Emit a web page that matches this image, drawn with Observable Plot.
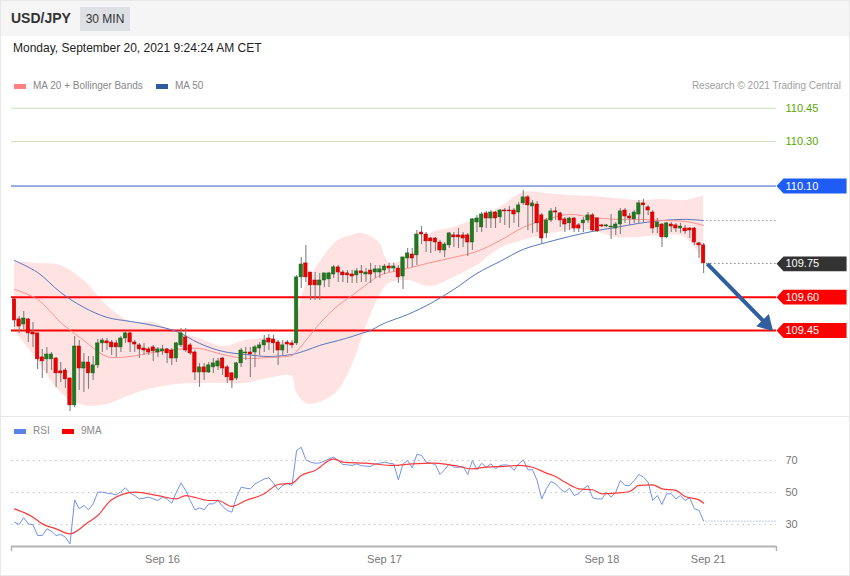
<!DOCTYPE html>
<html><head><meta charset="utf-8">
<script src="https://cdn.jsdelivr.net/npm/d3@7"></script>
<script src="https://cdn.jsdelivr.net/npm/@observablehq/plot@0.6"></script>
<style>
body{margin:0;background:#fff;font-family:"Liberation Sans",Arial,sans-serif;}
#wrap{position:relative;width:850px;height:576px;overflow:hidden;background:#fff;}
#hdr{position:absolute;left:0;top:0;width:850px;height:36px;background:#f5f5f5;}
#sym{position:absolute;left:11px;top:10px;font-size:14px;font-weight:bold;color:#333;}
#badge{position:absolute;left:80px;top:7px;width:50px;height:24px;line-height:24px;text-align:center;background:#dde0e5;font-size:12px;color:#333;}
#date{position:absolute;left:13px;top:41px;font-size:12px;color:#222;}
.leg{position:absolute;font-size:10px;color:#888;line-height:12px;}
.sw{position:absolute;width:12px;height:5px;}
#credit{position:absolute;right:9px;top:80px;font-size:10px;color:#a0a0a0;}
#main{position:absolute;left:0;top:96px;}
#rsi{position:absolute;left:0;top:416px;}
#sep{position:absolute;left:0;top:416px;width:850px;height:1px;background:#e6e6e6;z-index:3;}
#border{position:absolute;left:0;top:0;width:848px;height:574px;border:1px solid #e8e8e8;z-index:4;pointer-events:none;}
</style></head>
<body>
<div id="wrap">
  <div id="hdr"><div id="sym">USD/JPY</div><div id="badge">30 MIN</div></div>
  <div id="date">Monday, September 20, 2021 9:24:24 AM CET</div>
  <div class="sw" style="left:14px;top:84px;background:#ff8080"></div>
  <div class="leg" style="left:33px;top:80px">MA 20 + Bollinger Bands</div>
  <div class="sw" style="left:156px;top:84px;background:#2f5c9e"></div>
  <div class="leg" style="left:175px;top:80px">MA 50</div>
  <div id="credit">Research © 2021 Trading Central</div>
  <div id="main"></div>
  <div id="sep"></div>
  <div id="rsi"></div>
  <div class="sw" style="left:14px;top:429px;background:#5b82e6;z-index:5"></div>
  <div class="leg" style="left:33px;top:425px;z-index:5">RSI</div>
  <div class="sw" style="left:62px;top:429px;background:#ff0000;z-index:5"></div>
  <div class="leg" style="left:81px;top:425px;z-index:5">9MA</div>
  <div id="border"></div>
</div>
<script>
// ---- candles (30 min USD/JPY), index 0..149 ----
const opens = [
109.590,109.500,109.477,109.500,109.441,109.437,109.329,109.320,109.320,109.324,
109.266,109.270,109.234,109.113,109.378,109.279,109.306,109.257,109.293,109.392,
109.401,109.396,109.392,109.374,109.414,109.437,109.396,109.383,109.369,109.365,
109.374,109.351,109.356,109.365,109.360,109.324,109.383,109.419,109.383,109.351,
109.261,109.284,109.261,109.284,109.288,109.324,109.284,109.257,109.234,109.302,
109.347,109.351,109.351,109.369,109.383,109.414,109.410,109.396,109.360,109.396,
109.392,109.392,109.689,109.752,109.711,109.675,109.653,109.675,109.680,109.702,
109.734,109.711,109.707,109.702,109.698,109.716,109.702,109.720,109.711,109.711,
109.720,109.738,109.729,109.729,109.693,109.774,109.792,109.788,109.891,109.882,
109.864,109.864,109.846,109.810,109.833,109.878,109.878,109.878,109.878,109.846,
109.936,109.914,109.977,109.954,109.981,109.959,109.990,109.990,109.990,109.981,
110.022,110.049,110.008,110.017,109.968,109.887,109.945,109.986,109.977,109.950,
109.932,109.954,109.923,109.932,109.945,109.968,109.954,109.923,109.918,109.914,
109.909,109.927,109.990,109.963,109.950,109.972,110.022,110.004,109.981,109.914,
109.927,109.869,109.927,109.923,109.909,109.909,109.909,109.909,109.842,109.833];
const highs = [
109.594,109.513,109.536,109.504,109.486,109.437,109.365,109.374,109.351,109.329,
109.306,109.279,109.239,109.423,109.405,109.347,109.333,109.333,109.410,109.414,
109.414,109.405,109.405,109.423,109.446,109.441,109.405,109.392,109.392,109.374,
109.383,109.374,109.383,109.369,109.369,109.396,109.459,109.459,109.392,109.360,
109.302,109.302,109.306,109.324,109.324,109.329,109.293,109.261,109.306,109.369,
109.374,109.374,109.383,109.396,109.428,109.432,109.428,109.405,109.405,109.405,
109.405,109.698,109.779,109.833,109.711,109.711,109.707,109.707,109.711,109.743,
109.743,109.720,109.720,109.720,109.729,109.743,109.729,109.752,109.743,109.743,
109.747,109.752,109.752,109.743,109.779,109.819,109.819,109.900,109.918,109.891,
109.869,109.869,109.855,109.846,109.891,109.891,109.909,109.891,109.887,109.954,
109.968,109.981,109.986,109.990,109.986,109.995,109.999,110.008,109.999,110.026,
110.080,110.058,110.035,110.031,109.977,109.954,109.999,110.004,109.981,109.959,
109.959,109.959,109.932,109.959,109.981,109.977,109.959,109.927,109.927,109.972,
109.936,109.999,109.999,109.977,109.990,110.035,110.040,110.013,109.990,109.954,
109.932,109.936,109.936,109.932,109.932,109.923,109.914,109.914,109.846,109.842];
const lows = [
109.464,109.437,109.455,109.396,109.374,109.275,109.234,109.257,109.270,109.194,
109.216,109.189,109.085,109.104,109.180,109.171,109.185,109.225,109.279,109.351,
109.360,109.338,109.329,109.351,109.392,109.351,109.351,109.324,109.338,109.338,
109.311,109.329,109.338,109.302,109.293,109.306,109.374,109.351,109.338,109.225,
109.194,109.225,109.257,109.257,109.270,109.248,109.212,109.189,109.225,109.284,
109.315,109.239,109.284,109.338,109.351,109.360,109.347,109.293,109.338,109.347,
109.369,109.383,109.639,109.666,109.585,109.585,109.585,109.644,109.644,109.684,
109.666,109.666,109.662,109.662,109.662,109.666,109.666,109.662,109.684,109.684,
109.702,109.711,109.711,109.662,109.635,109.729,109.734,109.743,109.837,109.801,
109.797,109.806,109.797,109.779,109.819,109.824,109.819,109.824,109.783,109.810,
109.891,109.891,109.909,109.909,109.909,109.932,109.923,109.909,109.932,109.914,
110.013,109.900,109.887,109.891,109.842,109.864,109.936,109.945,109.914,109.891,
109.900,109.891,109.891,109.891,109.932,109.891,109.891,109.914,109.914,109.860,
109.878,109.882,109.932,109.923,109.932,109.932,109.936,109.968,109.887,109.887,
109.824,109.864,109.891,109.891,109.887,109.882,109.864,109.833,109.774,109.707];
const closes = [
109.495,109.468,109.504,109.437,109.432,109.320,109.311,109.342,109.342,109.257,
109.257,109.230,109.113,109.378,109.279,109.306,109.257,109.293,109.392,109.405,
109.392,109.374,109.374,109.414,109.437,109.396,109.387,109.365,109.360,109.351,
109.356,109.365,109.365,109.347,109.324,109.392,109.437,109.360,109.347,109.261,
109.284,109.261,109.293,109.302,109.311,109.279,109.239,109.225,109.302,109.360,
109.351,109.342,109.374,109.383,109.405,109.396,109.392,109.360,109.383,109.387,
109.383,109.689,109.747,109.689,109.653,109.653,109.675,109.707,109.707,109.734,
109.711,109.698,109.698,109.693,109.716,109.707,109.711,109.702,109.725,109.725,
109.738,109.729,109.738,109.689,109.779,109.797,109.774,109.882,109.882,109.851,
109.851,109.846,109.810,109.837,109.887,109.869,109.869,109.864,109.846,109.950,
109.954,109.972,109.954,109.981,109.954,109.990,109.986,109.986,109.972,110.013,
110.049,110.013,110.022,109.932,109.864,109.945,109.986,109.981,109.945,109.927,
109.954,109.909,109.909,109.945,109.968,109.900,109.896,109.918,109.923,109.918,
109.927,109.986,109.963,109.954,109.981,110.022,110.013,109.990,109.909,109.936,
109.869,109.932,109.918,109.909,109.918,109.896,109.900,109.846,109.833,109.752];

// ---- moving averages & Bollinger bands (sampled at candle indices) ----
const bandIdx   = [0,5,10,15,20,25,30,35,40,45,50,55,60,61,63,66,70,73,75,77,79,81,85,90,95,100,105,110,115,120,125,130,135,140,145,149];
const upperBand = [109.761,109.752,109.743,109.675,109.563,109.491,109.486,109.441,109.414,109.378,109.405,109.414,109.396,109.495,109.653,109.756,109.855,109.878,109.887,109.873,109.842,109.756,109.774,109.887,109.914,109.954,110.004,110.071,110.067,110.058,110.053,110.044,110.035,110.040,110.035,110.058];
const lowerBand = [109.450,109.315,109.171,109.113,109.117,109.158,109.189,109.207,109.212,109.212,109.212,109.234,109.243,109.171,109.122,109.126,109.180,109.293,109.405,109.518,109.608,109.662,109.675,109.648,109.689,109.743,109.819,109.855,109.882,109.900,109.900,109.869,109.869,109.878,109.869,109.765];
const ma20      = [109.635,109.590,109.486,109.405,109.333,109.333,109.351,109.365,109.369,109.342,109.324,109.329,109.338,109.356,109.405,109.482,109.563,109.608,109.639,109.671,109.698,109.711,109.729,109.756,109.779,109.806,109.855,109.914,109.950,109.972,109.959,109.950,109.950,109.945,109.941,109.923];
const ma50      = [109.765,109.711,109.621,109.554,109.509,109.491,109.473,109.446,109.392,109.356,109.342,109.333,109.342,109.347,109.360,109.383,109.405,109.423,109.437,109.450,109.473,109.491,109.522,109.572,109.635,109.707,109.761,109.815,109.846,109.873,109.896,109.914,109.932,109.945,109.950,109.945];

// ---- RSI and its 9-period MA ----
const rsi = [
31.5,30.0,34.2,30.4,29.8,23.1,23.1,27.3,25.8,23.1,
23.8,22.1,17.9,45.4,39.8,41.9,39.2,42.9,50.2,50.2,
49.6,49.2,48.5,50.5,52.9,49.6,48.1,46.0,46.5,47.1,
46.0,45.0,47.1,46.0,43.3,50.2,56.0,51.3,45.0,39.2,
40.4,39.2,42.9,42.9,45.0,41.3,38.8,37.7,47.1,53.3,
52.7,52.3,55.4,56.9,58.5,59.2,55.8,51.7,54.4,55.8,
54.4,76.3,78.3,70.4,69.0,68.3,68.5,69.6,71.0,72.1,
70.0,67.5,67.3,66.9,67.9,66.7,66.5,66.3,67.9,68.3,
69.0,68.3,67.9,57.9,67.9,70.0,65.4,73.8,73.3,69.0,
68.3,67.5,61.3,64.2,67.9,65.8,65.8,66.3,61.3,70.0,
64.2,68.3,65.8,67.9,64.8,66.9,67.3,66.9,63.8,67.9,
70.4,64.2,64.2,57.5,46.0,52.3,56.9,55.4,52.3,50.2,
52.7,48.1,49.2,52.3,54.4,46.7,46.0,46.0,50.2,47.1,
50.2,57.5,54.4,54.4,57.5,61.3,59.6,56.5,45.0,48.1,
42.5,49.2,49.2,46.0,48.1,45.0,46.7,39.8,38.8,32.1];
const ma9Idx = [0,4,6,9,12,16,18,21,26,31,35,37,42,44,47,50,54,57,60,62,65,69,71,76,82,86,91,95,99,102,106,109,112,115,117,119,122,125,127,130,133,135,138,140,143,145,148,149];
const ma9Val = [39.8,34.6,30.4,27.3,24.2,31.5,35.6,45.4,50.2,48.1,46.0,48.1,45.0,45.0,41.3,45.0,49.2,55.0,55.8,60.6,63.8,71.0,69.0,68.3,66.9,67.9,68.3,66.9,64.8,65.8,66.3,66.9,65.8,62.1,60.0,56.5,52.3,51.7,49.2,49.6,50.6,54.4,54.8,52.3,51.3,47.5,45.4,43.3];

// ---- levels, ticks, annotation ----
const levelValues = [110.45, 110.30, 110.10, 109.75, 109.60, 109.45];
const levelLabels = ["110.45", "110.30", "110.10", "109.75", "109.60", "109.45"];
const rsiLevels = [70, 50, 30];
const tickIdx = [32, 80, 127, 150];
const tickLabels = ["Sep 16", "Sep 17", "Sep 18", "Sep 21"];
const arrowFrom = [149.8, 109.75];
const arrowHead = [162.5, 109.48];

// ---- scales geometry ----
const X0 = -0.6486, X1 = 164.757;
const TAG_TIP = X1, TAG_START = 166.27, TAG_END = 179.9, TAG_TEXT = 166.7, TAG_H = 0.0335;
const LAST = 149;
const font = {fontFamily: "'Liberation Sans', Arial, sans-serif", fontSize: "11px", background: "transparent", overflow: "visible"};

const candles = opens.map((o, i) => ({i, o, h: highs[i], l: lows[i], c: closes[i], up: closes[i] >= o}));
const bands = bandIdx.map((i, k) => ({i, up: upperBand[k], lo: lowerBand[k], m20: ma20[k], m50: ma50[k]}));

const levelStyle = {
  "110.45": {line: "#c9e0b8", w: 1, text: "#5aa700", box: null},
  "110.30": {line: "#c9e0b8", w: 1, text: "#5aa700", box: null},
  "110.10": {line: "#3a5bc8", w: 1, text: "#fff", box: "#1f5cf5"},
  "109.75": {line: null, w: 0, text: "#fff", box: "#333333"},
  "109.60": {line: "#ff0000", w: 2, text: "#fff", box: "#ff0000"},
  "109.45": {line: "#ff0000", w: 2, text: "#fff", box: "#ff0000"}
};

const marks = [];
marks.push(Plot.areaY(bands, {x: "i", y1: "lo", y2: "up", fill: "#ffe2e2", curve: "catmull-rom"}));
levelValues.forEach((v, k) => {
  const s = levelStyle[levelLabels[k]];
  if (s.line) marks.push(Plot.ruleY([v], {x1: X0, x2: X1, stroke: s.line, strokeWidth: s.w}));
});
marks.push(Plot.line(bands, {x: "i", y: "m50", stroke: "#5577bb", strokeWidth: 1, curve: "catmull-rom"}));
marks.push(Plot.line(bands, {x: "i", y: "m20", stroke: "#ff9090", strokeWidth: 1, curve: "catmull-rom"}));
// dotted extensions from the last candle
marks.push(Plot.ruleY([closes[LAST]], {x1: LAST + 0.7, x2: X1, stroke: "#333", strokeDasharray: "1,3"}));
marks.push(Plot.ruleY([ma50[ma50.length - 1]], {x1: LAST + 0.7, x2: X1, stroke: "#666", strokeDasharray: "1,3"}));
// candles
marks.push(Plot.ruleX(candles, {x: "i", y1: "l", y2: "h", stroke: "#808080", strokeWidth: 1.1}));
marks.push(Plot.rect(candles, {x1: d => d.i - 0.37, x2: d => d.i + 0.37, y1: "o", y2: "c",
  fill: d => d.up ? "#1f7a1f" : "#ee0000", stroke: d => d.up ? "#185e18" : "#b00000", strokeWidth: 0.5}));
// arrow: shaft + filled head
marks.push(Plot.link([{a: arrowFrom, b: arrowHead}], {x1: d => d.a[0], y1: d => d.a[1], x2: d => d.b[0], y2: d => d.b[1],
  stroke: "#2f5f9f", strokeWidth: 4}));
marks.push(Plot.dot([arrowHead], {x: d => d[0], y: d => d[1], symbol: "triangle", r: 6.5, rotate: 136, fill: "#2f5f9f", stroke: "none"}));
// level tags
levelValues.forEach((v, k) => {
  const s = levelStyle[levelLabels[k]];
  if (s.box) {
    const pts = [[TAG_TIP, v], [TAG_START, v + TAG_H], [TAG_END, v + TAG_H], [TAG_END, v - TAG_H], [TAG_START, v - TAG_H], [TAG_TIP, v]];
    marks.push(Plot.line(pts, {x: d => d[0], y: d => d[1], fill: s.box, stroke: "none"}));
  }
  marks.push(Plot.text([v], {x: TAG_TEXT, y: d => d, text: () => levelLabels[k], fill: s.text, textAnchor: "start", fontSize: 11}));
});

const mainChart = Plot.plot({
  width: 850, height: 320, marginLeft: 11, marginRight: 74, marginTop: 0, marginBottom: 0,
  style: font,
  x: {domain: [X0, X1], axis: null},
  y: {domain: [109.063, 110.503], axis: null},
  marks
});
document.getElementById("main").appendChild(mainChart);

const rsiRows = rsi.map((v, i) => ({i, v}));
const maRows = ma9Idx.map((i, k) => ({i, v: ma9Val[k]}));
const YMIN = 16.25;
const rsiChart = Plot.plot({
  width: 850, height: 159, marginLeft: 11, marginRight: 74, marginTop: 0, marginBottom: 29,
  style: font,
  x: {domain: [X0, X1], axis: null},
  y: {domain: [YMIN, 97.5], axis: null},
  marks: [
    Plot.ruleY(rsiLevels, {x1: X0, x2: X1, stroke: "#c4c4c4", strokeDasharray: "1.5,4"}),
    Plot.text(rsiLevels, {x: TAG_TEXT, y: d => d, text: d => String(d), textAnchor: "start", fill: "#777", fontSize: 11}),
    Plot.ruleY([rsi[LAST]], {x1: LAST + 0.5, x2: X1, stroke: "#7f96d8", strokeDasharray: "1,2"}),
    Plot.line(rsiRows, {x: "i", y: "v", stroke: "#7392ea", strokeWidth: 1}),
    Plot.line(maRows, {x: "i", y: "v", stroke: "#ff3a3a", strokeWidth: 1.2, curve: "monotone-x"}),
    Plot.ruleY([YMIN], {x1: X0, x2: X1, stroke: "#b4b4b4", strokeWidth: 2}),
    Plot.ruleX([X0, X1], {y1: YMIN, y2: 13.1, stroke: "#b4b4b4", strokeWidth: 1.5}),
    Plot.text(tickIdx, {x: d => d, y: YMIN, dy: 13, text: (d, i) => tickLabels[i], fill: "#777", fontSize: 11})
  ]
});
document.getElementById("rsi").appendChild(rsiChart);
</script>
</body></html>
